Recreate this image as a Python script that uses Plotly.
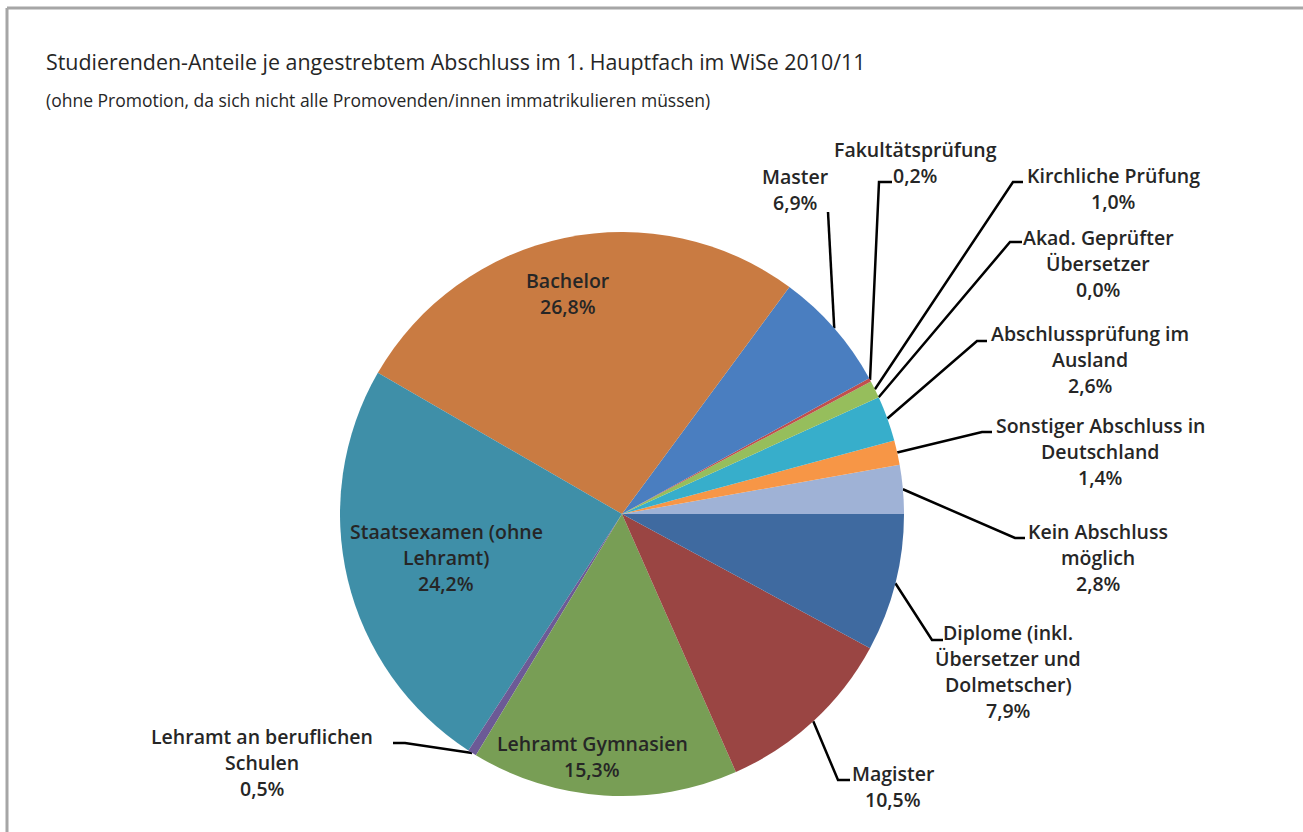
import math
import plotly.graph_objects as go

# ---------------- data ----------------
categories = [
    "Kein Abschluss möglich",
    "Sonstiger Abschluss in Deutschland",
    "Abschlussprüfung im Ausland",
    "Akad. Geprüfter Übersetzer",
    "Kirchliche Prüfung",
    "Fakultätsprüfung",
    "Master",
    "Bachelor",
    "Staatsexamen (ohne Lehramt)",
    "Lehramt an beruflichen Schulen",
    "Lehramt Gymnasien",
    "Magister",
    "Diplome (inkl. Übersetzer und Dolmetscher)",
]
shares = [2.8, 1.4, 2.6, 0.0, 1.0, 0.2, 6.9, 26.8, 24.2, 0.5, 15.3, 10.5, 7.9]
label_lines = [
    ["Kein Abschluss", "möglich"],
    ["Sonstiger Abschluss in", "Deutschland"],
    ["Abschlussprüfung im", "Ausland"],
    ["Akad. Geprüfter", "Übersetzer"],
    ["Kirchliche Prüfung"],
    ["Fakultätsprüfung"],
    ["Master"],
    ["Bachelor"],
    ["Staatsexamen (ohne", "Lehramt)"],
    ["Lehramt an beruflichen", "Schulen"],
    ["Lehramt Gymnasien"],
    ["Magister"],
    ["Diplome (inkl.", "Übersetzer und", "Dolmetscher)"],
]
colors = ["#9FB2D6", "#F79646", "#37AECB", "#8064A2", "#96BE5C", "#C0504D",
          "#4A7EC0", "#C97B42", "#3F8FA8", "#6C5A96", "#789E55", "#9A4543", "#3F6AA0"]

title = "Studierenden-Anteile je angestrebtem Abschluss im 1. Hauptfach im WiSe 2010/11"
subtitle = "(ohne Promotion, da sich nicht alle Promovenden/innen immatrikulieren müssen)"

# ---------------- layout (pixels) ----------------
W, H = 1303, 832
CX, CY, R = 622, 514, 282
FONT = "Open Sans, sans-serif"
TXT = "#262626"
LINE_H = 26

# label placement: (center x, first-line y, leader horizontal segment x0, x1, y) ; None = inside
label_pos = {
    0: (1098, 531, 1025, 1015, 538),
    1: (1100, 425, 992, 982, 432),
    2: (1090, 333, 987, 977, 341),
    3: (1098, 237, 1022, 1010, 242),
    4: (1113, 175, 1023, 1013, 182),
    5: (915, 149, 892, 879, 182),
    6: (795, 176, 828, 828, 212),
    7: (568, 280, None, None, None),
    8: (446, 531, None, None, None),
    9: (262, 736, 393, 405, 743),
    10: (592, 743, None, None, None),
    11: (893, 773, 850, 838, 780),
    12: (1008, 632, 943, 932, 640),
}

def fmt(v):
    return f"{v:.1f}".replace(".", ",") + "%"

total = sum(shares)
# first slice should start at 3 o'clock and run counterclockwise
rotation = 90 - 360 * shares[0] / total

fig = go.Figure()

fig.add_trace(go.Pie(
    labels=categories, values=shares, sort=False, direction="counterclockwise",
    rotation=rotation, textinfo="none", hoverinfo="label+percent",
    marker=dict(colors=colors, line=dict(width=0)),
    domain=dict(x=[(CX - R) / W, (CX + R) / W], y=[(H - CY - R) / H, (H - CY + R) / H]),
    showlegend=False,
))

cum = 0.0
for i, v in enumerate(shares):
    mid = (cum + v / 2) / total
    cum += v
    th = 2 * math.pi * mid
    px = CX + R * math.cos(th)
    py = CY - R * math.sin(th)
    tx, ty, hx0, hx1, hy = label_pos[i]
    lines = label_lines[i] + [fmt(v)]
    for k, ln in enumerate(lines):
        fig.add_annotation(x=tx, y=ty + k * LINE_H, xref="x", yref="y", text=ln,
                           showarrow=False, xanchor="center", yanchor="middle",
                           font=dict(family=FONT, size=19.5, color=TXT, weight=600))
    if hx0 is not None:
        fig.add_trace(go.Scatter(x=[hx0, hx1, px], y=[hy, hy, py], mode="lines",
                                 line=dict(color="black", width=2.5), hoverinfo="skip",
                                 showlegend=False))

fig.add_annotation(x=44, y=61, xref="x", yref="y", text=title, showarrow=False,
                   xanchor="left", yanchor="middle",
                   font=dict(family=FONT, size=21.4, color=TXT))
fig.add_annotation(x=44, y=100, xref="x", yref="y", text=subtitle, showarrow=False,
                   xanchor="left", yanchor="middle",
                   font=dict(family=FONT, size=17.5, color=TXT))

# frame (left and top edges only; the rest lies outside the picture)
fig.add_shape(type="line", xref="x", yref="y", x0=7, y0=8, x1=W, y1=8,
              line=dict(color="#A6A6A6", width=3), layer="below")
fig.add_shape(type="line", xref="x", yref="y", x0=7, y0=8, x1=7, y1=H,
              line=dict(color="#A6A6A6", width=3), layer="below")

fig.update_layout(
    width=W, height=H, margin=dict(l=0, r=0, t=0, b=0),
    paper_bgcolor="white", plot_bgcolor="rgba(0,0,0,0)",
    xaxis=dict(range=[0, W], visible=False, fixedrange=True),
    yaxis=dict(range=[H, 0], visible=False, fixedrange=True),
    showlegend=False,
)

fig.write_html("out.html", config={"displayModeBar": False},
               post_script="document.body.style.margin='0';document.body.style.overflow='hidden';")
